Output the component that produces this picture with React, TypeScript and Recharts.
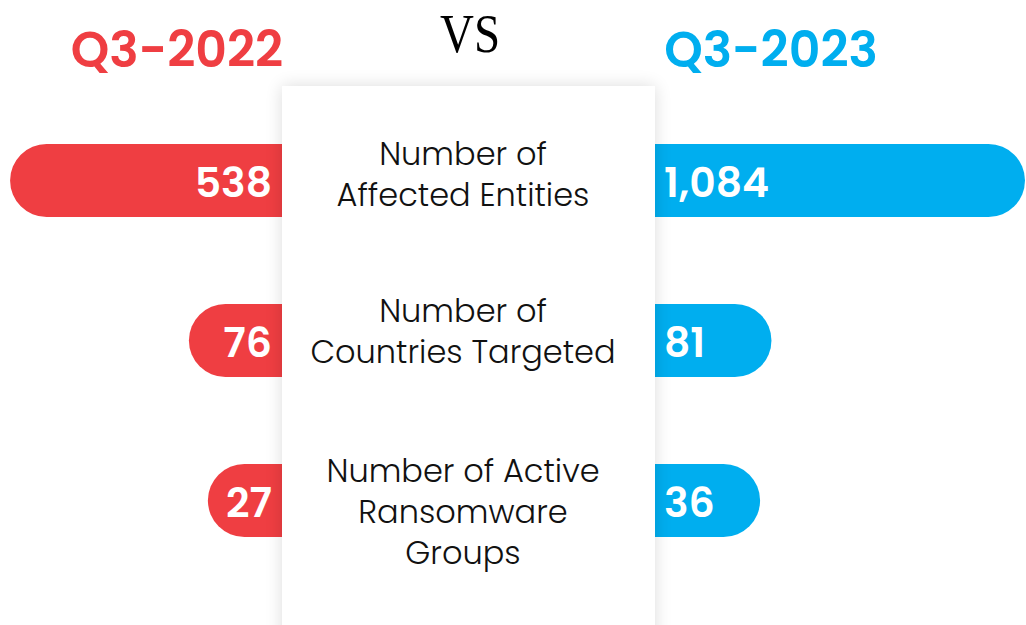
import React from 'react';
import { BarChart, Bar, XAxis, YAxis } from 'recharts';

// ---- data ----
const categories = [
  'Number of Affected Entities',
  'Number of Countries Targeted',
  'Number of Active Ransomware Groups',
];
const categoryLines = [
  ['Number of', 'Affected Entities'],
  ['Number of', 'Countries Targeted'],
  ['Number of Active', 'Ransomware', 'Groups'],
];
const seriesNames = ['Q3-2022', 'Q3-2023'];
const q3_2022 = [538, 76, 27];
const q3_2023 = [1084, 81, 36];

// ---- style / layout constants ----
const RED = '#EF3E42';
const BLUE = '#00AEEF';
const W = 1026;
const H = 625;
const LEFT_MIN = -211;
const LEFT_MAX = 564;
const RIGHT_MIN = -447;
const RIGHT_MAX = 1088;
const NUM_FONT = 'Poppins, Roboto, sans-serif';
const LABEL_FONT = 'Poppins, Lato, sans-serif';

const leftData = categories.map((c, i) => ({ category: c, value: q3_2022[i] }));
const rightData = categories.map((c, i) => ({ category: c, value: q3_2023[i] }));

const fmt = (v: number) => v.toLocaleString('en-US');

const LeftShape = (p: any) => {
  const x0 = Math.min(p.x, p.x + p.width);
  const x1 = Math.max(p.x, p.x + p.width);
  const y = p.y;
  const h = p.height;
  const r = h / 2;
  const d = `M${x1},${y} L${x0 + r},${y} A${r},${r} 0 0 0 ${x0 + r},${y + h} L${x1},${y + h} Z`;
  return (
    <g>
      <path d={d} fill={RED} />
      <text x={x1 - 28} y={y + h / 2 + 16} textAnchor="end" fill="#fff" fontSize={41} fontWeight={600} fontFamily={NUM_FONT}>
        {fmt(p.payload.value)}
      </text>
    </g>
  );
};

const RightShape = (p: any) => {
  const x0 = Math.min(p.x, p.x + p.width);
  const x1 = Math.max(p.x, p.x + p.width);
  const y = p.y;
  const h = p.height;
  const r = h / 2;
  const d = `M${x0},${y} L${x1 - r},${y} A${r},${r} 0 0 1 ${x1 - r},${y + h} L${x0},${y + h} Z`;
  return (
    <g>
      <path d={d} fill={BLUE} />
      <text x={x0 + 26} y={y + h / 2 + 16} textAnchor="start" fill="#fff" fontSize={41} fontWeight={600} fontFamily={NUM_FONT}>
        {fmt(p.payload.value)}
      </text>
    </g>
  );
};

const MARGIN = { top: 100, bottom: 45, left: 0, right: 0 };
const LABEL_BASELINES = [165, 322, 482];
const LINE_H = 41;

export default function App() {
  return (
    <div style={{ position: 'absolute', left: 0, top: 0, width: W, height: H, overflow: 'hidden', background: '#fff' }}>
      <div style={{ position: 'absolute', left: 0, top: 0 }}>
        <BarChart width={300} height={H} data={leftData} layout="vertical" margin={MARGIN}>
          <XAxis type="number" domain={[LEFT_MIN, LEFT_MAX]} reversed hide allowDataOverflow />
          <YAxis type="category" dataKey="category" hide />
          <Bar
            dataKey={(d: any) => [LEFT_MIN, d.value]}
            name={seriesNames[0]}
            barSize={73}
            isAnimationActive={false}
            shape={LeftShape}
          />
        </BarChart>
      </div>
      <div style={{ position: 'absolute', left: 638, top: 0 }}>
        <BarChart width={W - 638} height={H} data={rightData} layout="vertical" margin={MARGIN}>
          <XAxis type="number" domain={[RIGHT_MIN, RIGHT_MAX]} hide allowDataOverflow />
          <YAxis type="category" dataKey="category" hide />
          <Bar
            dataKey={(d: any) => [RIGHT_MIN, d.value]}
            name={seriesNames[1]}
            barSize={73}
            isAnimationActive={false}
            shape={RightShape}
          />
        </BarChart>
      </div>
      <div
        style={{
          position: 'absolute',
          left: 282,
          top: 86,
          width: 373,
          height: 600,
          background: '#fff',
          boxShadow: '0 0 16px rgba(0,0,0,0.14)',
        }}
      />
      <svg width={W} height={H} style={{ position: 'absolute', left: 0, top: 0, pointerEvents: 'none' }}>
        <text x={177} y={67} textAnchor="middle" fill={RED} fontSize={49} fontWeight={600} fontFamily={NUM_FONT}>
          {seriesNames[0]}
        </text>
        <text x={771} y={67} textAnchor="middle" fill={BLUE} fontSize={49} fontWeight={600} fontFamily={NUM_FONT}>
          {seriesNames[1]}
        </text>
        <text x={470} y={52} textAnchor="middle" fill="#000" fontSize={54} fontFamily="'Liberation Serif', 'Times New Roman', serif" textLength={60} lengthAdjust="spacingAndGlyphs">
          VS
        </text>
        {categoryLines.map((lines, i) => (
          <text key={i} x={463} y={LABEL_BASELINES[i]} textAnchor="middle" fill="#111" fontSize={32} fontWeight={300} fontFamily={LABEL_FONT}>
            {lines.map((ln, j) => (
              <tspan key={j} x={463} y={LABEL_BASELINES[i] + j * LINE_H}>
                {ln}
              </tspan>
            ))}
          </text>
        ))}
      </svg>
    </div>
  );
}
